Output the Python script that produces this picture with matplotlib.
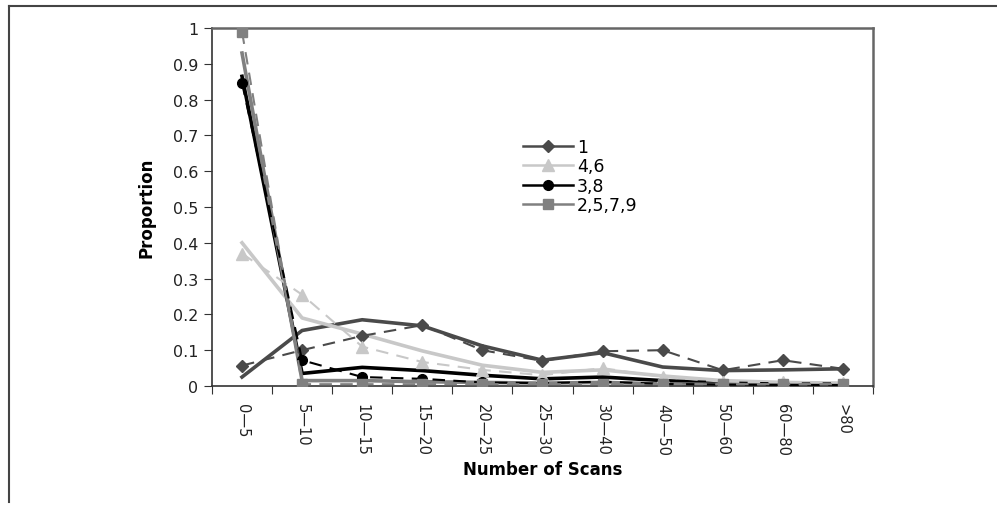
import matplotlib
matplotlib.use("Agg")
import matplotlib.pyplot as plt
from matplotlib.lines import Line2D

categories = ["0\u20145", "5\u201410", "10\u201415", "15\u201420", "20\u201425", "25\u201430",
              "30\u201440", "40\u201450", "50\u201460", "60\u201480", ">80"]
series_names = ["1", "4,6", "3,8", "2,5,7,9"]

# dashed series with markers
s1_marked = [0.057, 0.10, 0.14, 0.17, 0.10, 0.07, 0.097, 0.10, 0.044, 0.072, 0.048]
s46_marked = [0.37, 0.255, 0.11, 0.067, 0.045, 0.03, 0.05, 0.025, 0.012, 0.01, 0.008]
s38_marked = [0.847, 0.072, 0.025, 0.02, 0.01, 0.008, 0.012, 0.006, 0.004, 0.003, 0.003]
s2579_marked = [0.99, 0.005, 0.005, 0.005, 0.005, 0.005, 0.005, 0.005, 0.005, 0.005, 0.005]

# solid series without markers
s1_solid = [0.025, 0.155, 0.185, 0.168, 0.112, 0.072, 0.093, 0.053, 0.043, 0.045, 0.048]
s46_solid = [0.40, 0.19, 0.145, 0.098, 0.058, 0.038, 0.045, 0.028, 0.015, 0.01, 0.008]
s38_solid = [0.865, 0.035, 0.052, 0.043, 0.03, 0.02, 0.025, 0.015, 0.008, 0.005, 0.005]
s2579_solid = [0.93, 0.015, 0.015, 0.012, 0.01, 0.008, 0.01, 0.006, 0.004, 0.003, 0.003]

colors = ["#4a4a4a", "#c8c8c8", "#000000", "#808080"]
markers = ["D", "^", "o", "s"]
msizes = [6, 8, 7, 7]

plt.rcParams['font.family'] = ['DejaVu Sans']
fig = plt.figure(figsize=(9.97, 5.06), dpi=100)
ax = fig.add_axes([0.2126, 0.2352, 0.8756 - 0.2126, 0.9427 - 0.2352])

x = list(range(len(categories)))
solids = [s1_solid, s46_solid, s38_solid, s2579_solid]
marked = [s1_marked, s46_marked, s38_marked, s2579_marked]

for i in range(4):
    ax.plot(x, solids[i], color=colors[i], lw=2.6, zorder=2 + i * 0.1)
for i in range(4):
    ax.plot(x, marked[i], color=colors[i], lw=1.5, ls=(0, (6, 4)),
            marker=markers[i], ms=msizes[i], mfc=colors[i], mec=colors[i], zorder=3 + i * 0.1)

handles = [Line2D([0], [0], color=colors[i], lw=1.8, marker=markers[i], ms=msizes[i],
                  mfc=colors[i], mec=colors[i]) for i in range(4)]
ax.legend(handles, series_names, loc="upper left", bbox_to_anchor=(0.452, 0.727),
          frameon=False, fontsize=12.5, handlelength=2.9, labelspacing=0.08,
          handletextpad=0.2, borderpad=0.2)

ax.set_xlim(-0.5, 10.5)
ax.set_ylim(0, 1)
ax.set_yticks([0, 0.1, 0.2, 0.3, 0.4, 0.5, 0.6, 0.7, 0.8, 0.9, 1.0])
ax.set_yticklabels(["0", "0.1", "0.2", "0.3", "0.4", "0.5", "0.6", "0.7", "0.8", "0.9", "1"],
                   fontsize=11.5, color="#222222")
ax.set_xticks([i - 0.5 for i in range(12)])
ax.set_xticklabels([])
ax.set_xticks(x, minor=True)
ax.set_xticklabels(categories, minor=True, rotation=-90, fontsize=10.5, color="#222222",
                   va="top", ha="center")
ax.tick_params(axis="x", which="minor", length=0, pad=12)
ax.tick_params(axis="x", which="major", length=6, direction="out", color="#333333")
ax.tick_params(axis="y", length=6, direction="out", color="#333333", pad=4)

for s in ["left", "bottom"]:
    ax.spines[s].set_color("#333333")
    ax.spines[s].set_linewidth(1.2)
for s in ["top", "right"]:
    ax.spines[s].set_color("#666666")
    ax.spines[s].set_linewidth(1.8)

ax.set_ylabel("Proportion", fontsize=12, fontweight="bold", labelpad=12)
ax.set_xlabel("Number of Scans", fontsize=12, fontweight="bold", labelpad=4)

# outer frame (top and left)
fig.add_artist(Line2D([0.009, 1.0], [1 - 7 / 506, 1 - 7 / 506], color="#444444", lw=1.5))
fig.add_artist(Line2D([0.009, 0.009], [1 - 7 / 506, 1 - 503 / 506], color="#444444", lw=1.5))

fig.savefig("out.png", dpi=100)
